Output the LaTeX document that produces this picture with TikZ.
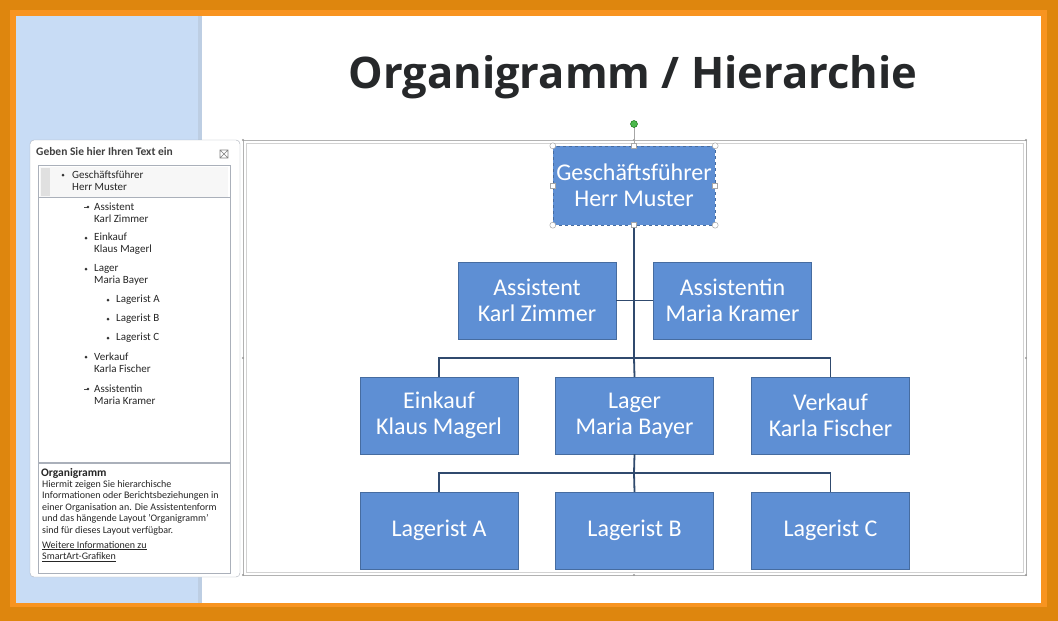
\documentclass[tikz,border=0pt]{standalone}
\usepackage{fontspec}
\setmainfont{Carlito}
\newfontfamily\titlefont{Open Sans}
\usetikzlibrary{positioning,calc}
\definecolor{framedark}{RGB}{222,134,14}
\definecolor{framelight}{RGB}{248,148,32}
\definecolor{panelblue}{RGB}{200,220,245}
\definecolor{boxblue}{RGB}{94,143,212}
\definecolor{boxedge}{RGB}{70,108,160}
\definecolor{linkblue}{RGB}{48,74,110}
\definecolor{titlegray}{RGB}{38,40,42}
\definecolor{panegray}{RGB}{170,176,186}
\tikzset{
	orgbox/.style={
			draw=boxedge, fill=boxblue, text=white, align=center,
			minimum width=158pt, minimum height=77pt, inner sep=0pt,
			font=\fontsize{24}{26}\selectfont
		},
	link/.style={draw=linkblue, line width=1.8pt},
	panetext/.style={anchor=west, inner sep=0pt, align=left, text=black!85,
			font=\fontsize{11}{12}\selectfont},
	handle/.style={draw=gray!70, fill=white, line width=0.5pt},
	bulletdot/.style={fill=black!80}
}
\begin{document}
\begin{tikzpicture}[x=1pt,y=-1pt]
	\useasboundingbox (0,0) rectangle (1058,621);
	\fill[framedark] (0,0) rectangle (1058,621);
	\fill[framelight] (10,10) rectangle (1047,607);
	\fill[white] (16,16) rectangle (1041,603);
	\fill[panelblue] (16,16) rectangle (202,603);
	\fill[panelblue!85!gray] (198,16) rectangle (202,603);
	\node[font=\titlefont\bfseries\fontsize{43.5}{46}\selectfont, text=titlegray] (title) at (633,77) {Organigramm / Hierarchie};
	% text pane
	\filldraw[fill=white, draw=panegray, rounded corners=4pt] (30,140) rectangle (240,577);
	\node[panetext, font=\bfseries\fontsize{11.5}{12}\selectfont, text=black!75] (panetitle) at (36,152) {Geben Sie hier Ihren Text ein};
	\draw[gray, line width=0.6pt] (220,150) rectangle (228,158) (220,150) -- (228,158) (220,158) -- (228,150);
	\draw[panegray] (38,165) rectangle (230,462);
	\fill[black!3] (40,167) rectangle (228,197);
	\fill[black!12] (41,168) rectangle (50,196);
	\draw[panegray] (38,197) -- (230,197);
	\fill[bulletdot] (63,175) circle (1.5pt);
	\node[panetext] (gf) at (72,181) {Geschäftsführer\\Herr Muster};
	\draw[black!70, line width=0.6pt] (84,207) -- (88,207);
	\fill[bulletdot] (88,207) circle (1.3pt);
	\node[panetext] (as) at (94,213) {Assistent\\Karl Zimmer};
	\fill[bulletdot] (86,238) circle (1.5pt);
	\node[panetext] (ek) at (94,244) {Einkauf\\Klaus Magerl};
	\fill[bulletdot] (86,269) circle (1.5pt);
	\node[panetext] (lg) at (94,275) {Lager\\Maria Bayer};
	\foreach \n/\y in {A/300,B/319,C/338}{
		\fill[bulletdot] (108,\y) circle (1.5pt);
		\node[panetext] (l\n) at (116,\y) {Lagerist \n};
	}
	\fill[bulletdot] (86,357) circle (1.5pt);
	\node[panetext] (vk) at (94,363) {Verkauf\\Karla Fischer};
	\draw[black!70, line width=0.6pt] (84,389) -- (88,389);
	\fill[bulletdot] (88,389) circle (1.3pt);
	\node[panetext] (ai) at (94,395) {Assistentin\\Maria Kramer};
	\draw[panegray] (38,463) rectangle (230,573);
	\node[panetext, font=\bfseries\fontsize{11.5}{12}\selectfont] (infotitle) at (41,473) {Organigramm};
	\node[panetext, anchor=north west, font=\fontsize{10}{11.5}\selectfont] (info) at (42,480) {Hiermit zeigen Sie hierarchische\\Informationen oder Berichtsbeziehungen in\\einer Organisation an. Die Assistentenform\\und das hängende Layout 'Organigramm'\\sind für dieses Layout verfügbar.};
	\node[panetext, anchor=north west, font=\fontsize{10}{11.5}\selectfont] (more) at (42,541) {\underline{Weitere Informationen zu}\\\underline{SmartArt-Grafiken}};
	% smartart frame
	\draw[gray!60] (243,140) rectangle (1026,575);
	\draw[gray!35] (246,143) rectangle (1023,572);
	\foreach \p in {(243,140),(634,140),(1026,140),(243,358),(1026,358),(243,575),(634,575),(1026,575)}
		\fill[gray!80] \p circle (1.2pt);
	% boxes
	\node[orgbox, minimum width=162pt, minimum height=79pt, dashed] (chef) at (634,185.5) {Geschäftsführer\\Herr Muster};
	\node[orgbox] (assi) at (537,300.5) {Assistent\\Karl Zimmer};
	\node[orgbox] (assin) at (732.5,300.5) {Assistentin\\Maria Kramer};
	\node[orgbox] (einkauf) at (439,415.5) {Einkauf\\Klaus Magerl};
	\node[orgbox] (lager) at (634.5,415.5) {Lager\\Maria Bayer};
	\node[orgbox] (verkauf) at (830.5,415.5) {Verkauf\\Karla Fischer};
	\node[orgbox] (lga) at (439,530.5) {Lagerist A};
	\node[orgbox] (lgb) at (634.5,530.5) {Lagerist B};
	\node[orgbox] (lgc) at (830.5,530.5) {Lagerist C};
	\coordinate (split1) at (634,358);
	\coordinate (split2) at (634,473);
	\draw[link] (chef.south) -- (split1);
	\draw[link] (assi.east) -- (assin.west);
	\draw[link] (einkauf.north) |- (split1) -| (verkauf.north);
	\draw[link] (split1) -- (lager.north);
	\draw[link] (lager.south) -- (split2);
	\draw[link] (lga.north) |- (split2) -| (lgc.north);
	\draw[link] (split2) -- (lgb.north);
	% selection handles
	\draw[gray!70] (chef.north) -- (634,125);
	\filldraw[fill=green!60!black!70, draw=green!40!black] (634,124) circle (3.5pt);
	\foreach \a in {north west,north east,south west,south east}
		\filldraw[handle] (chef.\a) circle (3pt);
	\foreach \a in {north,south,west,east}
		\filldraw[handle] ($(chef.\a)+(-2.5,-2.5)$) rectangle ++(5,5);
\end{tikzpicture}
\end{document}
